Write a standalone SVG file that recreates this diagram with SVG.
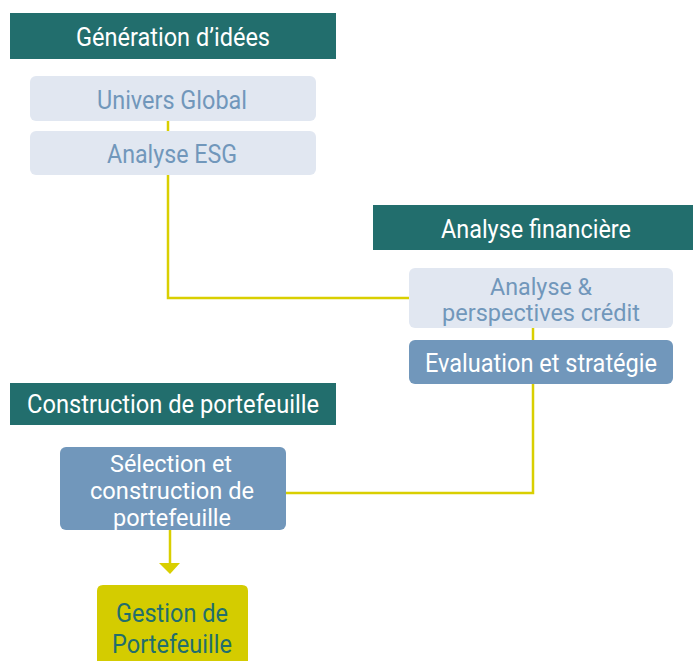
<svg xmlns="http://www.w3.org/2000/svg" width="693" height="661" viewBox="0 0 693 661">
<style>
.hdr{fill:#226e6d}
.ht{font-family:Roboto,"Liberation Sans",sans-serif;font-size:25px;fill:#ffffff;text-anchor:middle}
.lt{fill:#e1e7f1}
.ltt{font-family:Roboto,"Liberation Sans",sans-serif;font-size:25px;fill:#7197bb;text-anchor:middle}
.dk{fill:#7197bb}
.dkt{font-family:Roboto,"Liberation Sans",sans-serif;font-size:25px;fill:#ffffff;text-anchor:middle}
.yl{fill:#d4cc00}
.ylt{font-family:Roboto,"Liberation Sans",sans-serif;font-size:25px;fill:#226e6d;text-anchor:middle}
.sm{font-size:23px}
.con{fill:none;stroke:#d9cf00;stroke-width:2.5}
</style>
<g id="connectors">
<path class="con" d="M168 121 V131"/>
<path class="con" d="M168 175 V298 H409"/>
<path class="con" d="M533 328 V340"/>
<path class="con" d="M533 384 V493 H286"/>
<path class="con" d="M170 530 V564"/>
<polygon points="159,563 180,563 170,574" fill="#d9cf00"/>
</g>
<g id="h1"><rect class="hdr" x="10" y="13" width="326" height="46"/><text class="ht" x="173" y="46" textLength="194" lengthAdjust="spacingAndGlyphs">Génération d’idées</text></g>
<g id="n1"><rect class="lt" x="30" y="76" width="286" height="45" rx="6"/><text class="ltt" x="172" y="109" textLength="150" lengthAdjust="spacingAndGlyphs">Univers Global</text></g>
<g id="n2"><rect class="lt" x="30" y="131" width="286" height="44" rx="6"/><text class="ltt" x="172" y="163" textLength="130" lengthAdjust="spacingAndGlyphs">Analyse ESG</text></g>
<g id="h2"><rect class="hdr" x="373" y="205" width="320" height="45"/><text class="ht" x="536" y="238" textLength="190" lengthAdjust="spacingAndGlyphs">Analyse financière</text></g>
<g id="n3"><rect class="lt" x="409" y="268" width="264" height="60" rx="6"/><text class="ltt sm" x="541" y="295" textLength="102" lengthAdjust="spacingAndGlyphs">Analyse &amp;</text><text class="ltt sm" x="541" y="321" textLength="198" lengthAdjust="spacingAndGlyphs">perspectives crédit</text></g>
<g id="n4"><rect class="dk" x="409" y="340" width="264" height="44" rx="6"/><text class="dkt" x="541" y="372" textLength="232" lengthAdjust="spacingAndGlyphs">Evaluation et stratégie</text></g>
<g id="h3"><rect class="hdr" x="10" y="383" width="326" height="42"/><text class="ht" x="173" y="413" textLength="292" lengthAdjust="spacingAndGlyphs">Construction de portefeuille</text></g>
<g id="n5"><rect class="dk" x="60" y="447" width="226" height="83" rx="6"/><text class="dkt sm" x="171" y="472" textLength="122" lengthAdjust="spacingAndGlyphs">Sélection et</text><text class="dkt sm" x="172" y="499" textLength="164" lengthAdjust="spacingAndGlyphs">construction de</text><text class="dkt sm" x="172" y="526" textLength="118" lengthAdjust="spacingAndGlyphs">portefeuille</text></g>
<g id="n6"><path class="yl" d="M97 591 Q97 585 103 585 H242 Q248 585 248 591 V661 H97 Z"/><text class="ylt" x="172" y="622" textLength="112" lengthAdjust="spacingAndGlyphs">Gestion de</text><text class="ylt" x="172" y="653" textLength="120" lengthAdjust="spacingAndGlyphs">Portefeuille</text></g>
</svg>
